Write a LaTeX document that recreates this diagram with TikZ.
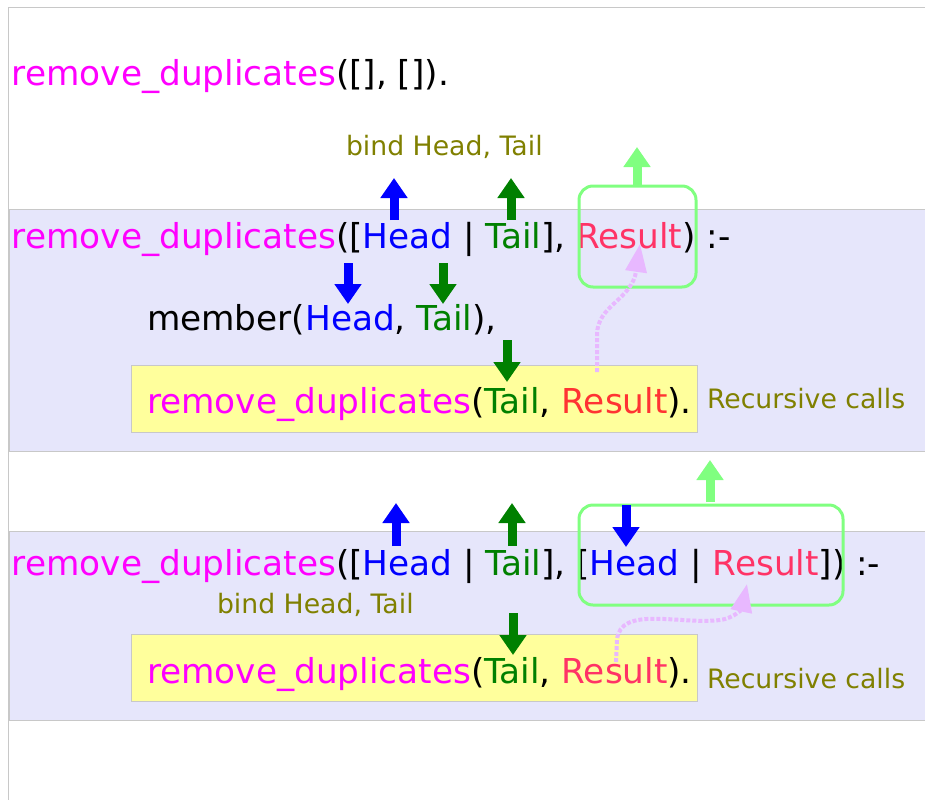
\documentclass[tikz,border=0pt]{standalone}
\usepackage{fontspec}
\setmainfont{DejaVu Sans}
\usetikzlibrary{arrows.meta}

\definecolor{pred}{HTML}{FF00FF}
\definecolor{headc}{HTML}{0000FF}
\definecolor{tailc}{HTML}{008000}
\definecolor{resc}{HTML}{FF3366}
\definecolor{resred}{HTML}{FF3333}
\definecolor{note}{HTML}{808000}
\definecolor{band}{HTML}{E6E6FB}
\definecolor{callbox}{HTML}{FFFF9C}
\definecolor{rule}{HTML}{C8C8C8}
\definecolor{lgreen}{HTML}{80FF80}
\definecolor{flow}{HTML}{E8B8FF}

\tikzset{
  code/.style={anchor=base west, inner sep=0pt, outer sep=0pt, font=\fontsize{34.3}{40}\selectfont},
  notetext/.style={anchor=base west, inner sep=0pt, outer sep=0pt, text=note, font=\fontsize{26.7}{30}\selectfont},
  bandbox/.style={fill=band, draw=rule, line width=1pt},
  callrect/.style={fill=callbox, draw=rule, line width=1pt},
  bindarrow/.style={line width=9pt, -{Triangle[width=26pt, length=20pt]}},
  groupbox/.style={draw=lgreen, line width=3pt, rounded corners=14pt},
  flowarrow/.style={draw=flow, line width=4pt, dotted, line cap=butt,
    -{Triangle[width=21pt, length=28pt, fill=flow]}},
}

\newcommand{\pr}[1]{\textcolor{pred}{#1}}
\newcommand{\hd}{\textcolor{headc}{Head}}
\newcommand{\tl}{\textcolor{tailc}{Tail}}

\begin{document}
\begin{tikzpicture}[x=1pt, y=-1pt]
\useasboundingbox (0,0) rectangle (925,800);

% outer frame
\draw[rule, line width=1pt] (925,8) -- (8.5,8) -- (8.5,800);

% clause bands
\path[bandbox] (9,209) rectangle (926,451);
\path[bandbox] (9,531) rectangle (926,720);

% recursive call boxes
\path[callrect] (131,365) rectangle (697,432);
\path[callrect] (131,634) rectangle (697,701);

% base clause
\node[code] (base) at (12,85) {\pr{remove\_duplicates}([], []).};

% first recursive clause
\node[notetext] (bind1) at (346,155) {bind Head, Tail};
\node[code] (head1) at (12,248) {\pr{remove\_duplicates}([\hd{} | \tl], \textcolor{resc}{Result}) :-};
\node[code] (member) at (147,330) {member(\hd, \tl),};
\node[code] (call1) at (147,413) {\pr{remove\_duplicates}(\tl, \textcolor{resred}{Result}).};
\node[notetext] (rec1) at (707,408) {Recursive calls};

% second recursive clause
\node[code] (head2) at (12,575) {\pr{remove\_duplicates}([\hd{} | \tl], [\hd{} | \textcolor{resc}{Result}]) :-};
\node[notetext] (bind2) at (217,613) {bind Head, Tail};
\node[code] (call2) at (147,683) {\pr{remove\_duplicates}(\tl, \textcolor{resc}{Result}).};
\node[notetext] (rec2) at (707,688) {Recursive calls};

% result groups
\draw[groupbox] (579,186) rectangle (696,287);
\draw[groupbox] (579,505) rectangle (843,605);

% arrow end points
\coordinate (hu1a) at (394,220); \coordinate (hu1b) at (394,178);
\coordinate (tu1a) at (511,220); \coordinate (tu1b) at (511,178);
\coordinate (ru1a) at (637,187); \coordinate (ru1b) at (637,147);
\coordinate (hd1a) at (348,263); \coordinate (hd1b) at (348,304);
\coordinate (td1a) at (443,263); \coordinate (td1b) at (443,304);
\coordinate (tc1a) at (507,340); \coordinate (tc1b) at (507,382);
\coordinate (fl1a) at (597,372); \coordinate (fl1b) at (640,244);

\coordinate (hu2a) at (396,546); \coordinate (hu2b) at (396,503);
\coordinate (tu2a) at (512,546); \coordinate (tu2b) at (512,503);
\coordinate (ru2a) at (710,502); \coordinate (ru2b) at (710,460);
\coordinate (hd2a) at (626,505); \coordinate (hd2b) at (626,547);
\coordinate (tc2a) at (513,613); \coordinate (tc2b) at (513,655);
\coordinate (fl2a) at (616,662); \coordinate (fl2b) at (747,584);

% bindings flowing up and down
\draw[bindarrow, headc] (hu1a) -- (hu1b);
\draw[bindarrow, tailc] (tu1a) -- (tu1b);
\draw[bindarrow, lgreen] (ru1a) -- (ru1b);
\draw[bindarrow, headc] (hd1a) -- (hd1b);
\draw[bindarrow, tailc] (td1a) -- (td1b);
\draw[bindarrow, tailc] (tc1a) -- (tc1b);

\draw[bindarrow, headc] (hu2a) -- (hu2b);
\draw[bindarrow, tailc] (tu2a) -- (tu2b);
\draw[bindarrow, lgreen] (ru2a) -- (ru2b);
\draw[bindarrow, headc] (hd2a) -- (hd2b);
\draw[bindarrow, tailc] (tc2a) -- (tc2b);

% results returned from the recursive calls
\draw[flowarrow] (fl1a) -- (597,335) .. controls (597,305) and (632,300) .. (fl1b);
\draw[flowarrow] (fl2a) -- (617,640) .. controls (620,605) and (680,625) .. (720,620)
  .. controls (735,618) and (742,608) .. (fl2b);
\end{tikzpicture}
\end{document}
